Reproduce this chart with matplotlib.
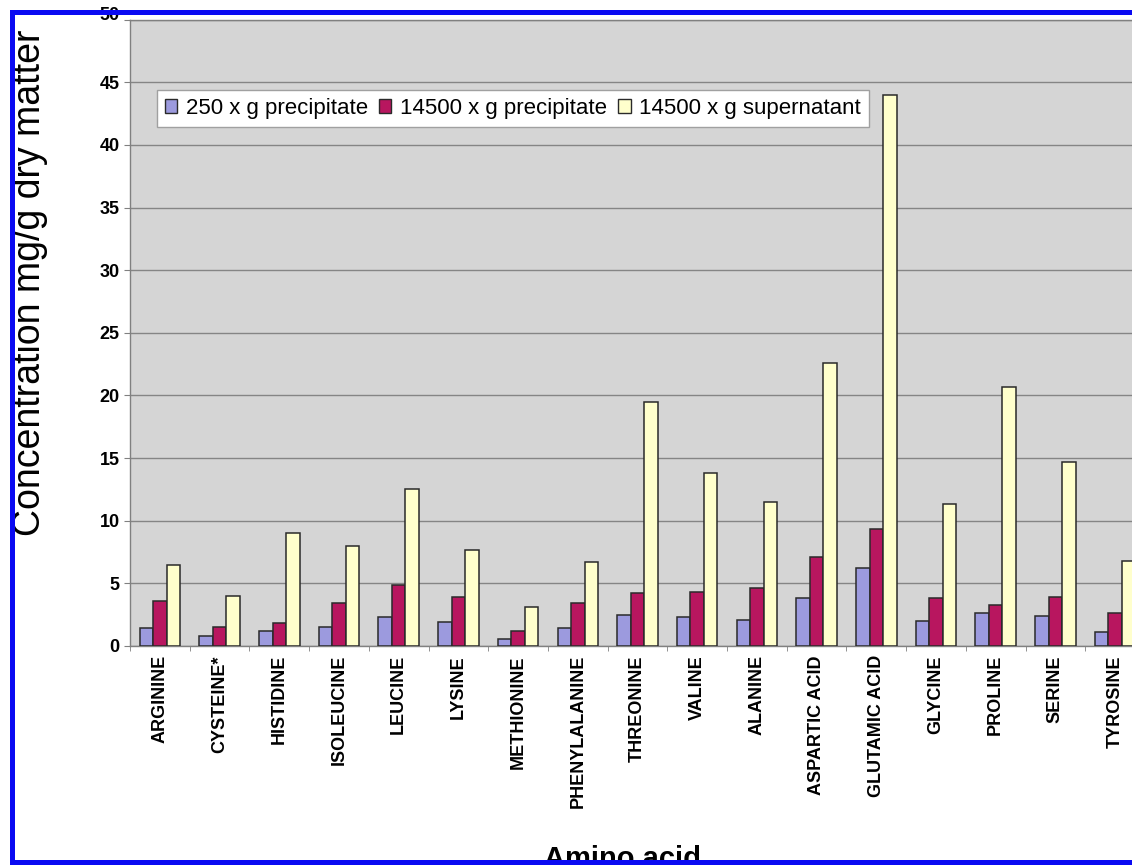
import numpy as np
import matplotlib.pyplot as plt
from matplotlib.patches import Rectangle, Patch
from matplotlib.transforms import ScaledTranslation

plt.rcParams["font.family"] = ["Liberation Sans", "DejaVu Sans"]

amino_acids = ["ARGININE", "CYSTEINE*", "HISTIDINE", "ISOLEUCINE", "LEUCINE",
               "LYSINE", "METHIONINE", "PHENYLALANINE", "THREONINE", "VALINE",
               "ALANINE", "ASPARTIC ACID", "GLUTAMIC ACID", "GLYCINE", "PROLINE",
               "SERINE", "TYROSINE"]
precip_250 = [1.4, 0.8, 1.2, 1.5, 2.3, 1.9, 0.55, 1.4, 2.5, 2.3,
              2.1, 3.8, 6.2, 2.0, 2.6, 2.4, 1.1]
precip_14500 = [3.6, 1.5, 1.8, 3.4, 4.9, 3.9, 1.2, 3.4, 4.2, 4.3,
                4.6, 7.1, 9.3, 3.8, 3.3, 3.9, 2.6]
super_14500 = [6.5, 4.0, 9.0, 8.0, 12.5, 7.7, 3.1, 6.7, 19.5, 13.8,
               11.5, 22.6, 44.0, 11.3, 20.7, 14.7, 6.8]
series_names = ["250 x g precipitate", "14500 x g precipitate", "14500 x g supernatant"]
colors = ["#9c9ade", "#b8165f", "#ffffcc"]

W, H = 1132, 865
fig = plt.figure(figsize=(W / 100, H / 100), dpi=100)
ax = fig.add_axes([130 / W, 1 - 646 / H, 1015 / W, (646 - 19.6) / H])
ax.set_facecolor("#d5d5d5")

x = np.arange(len(amino_acids))
bw = 0.226
for k, vals in enumerate([precip_250, precip_14500, super_14500]):
    ax.bar(x + (k - 1) * bw, vals, width=bw, color=colors[k],
           edgecolor="#2a2a2a", linewidth=1.1, zorder=3)

ax.set_xlim(-0.5, len(amino_acids) - 0.5)
ax.set_ylim(0, 50)
ax.set_yticks(np.arange(0, 51, 5))
ax.yaxis.grid(True, color="#858585", linewidth=1, zorder=0)
ax.set_axisbelow(True)

ax.set_xticks(x)
ax.set_xticklabels(amino_acids, rotation=90, fontsize=13, fontweight="bold",
                   va="top", ha="center")
ax.set_xticks(np.arange(-0.5, len(amino_acids)), minor=True)
ax.tick_params(axis="x", which="major", length=0, pad=6.5)
ax.tick_params(axis="x", which="minor", length=3.5, color="#808080")
ax.tick_params(axis="y", length=4.3, pad=3, color="#808080", labelsize=13)
for t in ax.get_yticklabels():
    t.set_fontweight("bold")
# top label sits a little higher, tucked under the frame
top_lbl = ax.get_yticklabels()[-1]
top_lbl.set_transform(top_lbl.get_transform() + ScaledTranslation(0, 6 / 100, fig.dpi_scale_trans))

for s in ax.spines.values():
    s.set_color("#808080")
    s.set_linewidth(1)

fig.text(30 / W, 1 - 283 / H, "Concentration mg/g dry matter", rotation=90,
         fontsize=27, ha="center", va="center")
fig.text(622 / W, -0.002, "Amino acid", fontsize=21, fontweight="bold",
         ha="center", va="baseline")

handles = [Patch(facecolor=c, edgecolor="#2a2a2a", linewidth=1) for c in colors]
leg = fig.legend(handles, series_names, ncol=3, loc="upper left",
                 bbox_to_anchor=(157 / W, 1 - 90 / H), bbox_transform=fig.transFigure,
                 borderaxespad=0, fontsize=16, frameon=True, fancybox=False,
                 handlelength=0.55, handleheight=0.55, handletextpad=0.4,
                 columnspacing=0.5, borderpad=0.35)
leg.get_frame().set_edgecolor("#a0a0a0")
leg.get_frame().set_facecolor("white")
leg.get_frame().set_alpha(1)

# blue frame: top, left and bottom edges
blue = "#0a0af2"
for (x0, y0, w, h) in [(10, 10, W - 10, 5), (10, 10, 5, H - 10), (10, H - 5, W - 10, 5)]:
    fig.patches.append(Rectangle((x0 / W, 1 - (y0 + h) / H), w / W, h / H,
                                 transform=fig.transFigure, facecolor=blue,
                                 edgecolor="none", zorder=10))

fig.savefig("out.png", dpi=100)
